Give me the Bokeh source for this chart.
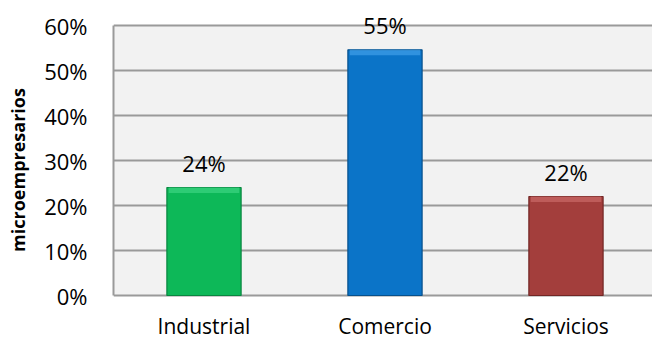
from bokeh.plotting import figure
from bokeh.models import Range1d, FixedTicker, ColumnDataSource, NumeralTickFormatter
from bokeh.core.properties import value
from bokeh.embed import file_html
from bokeh.resources import INLINE

categories = ["Industrial", "Comercio", "Servicios"]
values = [0.24, 0.546, 0.22]
labels = ["24%", "55%", "22%"]
colors = ["#0db858", "#0b74c8", "#a33e3c"]
edge_colors = ["#08863f", "#06508c", "#722624"]
light_colors = ["#45d889", "#4aa6ee", "#d0716e"]
y_ticks = [0, 0.1, 0.2, 0.3, 0.4, 0.5, 0.6]

FONT = "Open Sans"
W, H = 652, 339
FRAME_TOP, FRAME_BOTTOM = 25, 295          # pixel rows of 60% and 0%
Y_MAX = y_ticks[-1]
per_px = Y_MAX / (FRAME_BOTTOM - FRAME_TOP)
xs = [i + 0.5 for i in range(len(categories))]

src = ColumnDataSource(dict(x=xs, top=values, lab=labels, color=colors,
                            edge=edge_colors, light=light_colors,
                            bev=[v - 0.012 for v in values]))
cat_src = ColumnDataSource(dict(x=xs, y=[0] * len(xs), lab=categories))

x_range = Range1d(0, 2.978)
y_range = Range1d(-(H - FRAME_BOTTOM) * per_px, Y_MAX + FRAME_TOP * per_px)

p = figure(width=W, height=H, output_backend="svg", toolbar_location=None,
           x_range=x_range, y_range=y_range,
           min_border_left=113, min_border_right=0, min_border_top=0, min_border_bottom=0)

p.background_fill_color = "white"
p.border_fill_color = "white"
p.outline_line_color = None
p.xaxis.visible = False

# plot area background
p.quad(left=x_range.start, right=x_range.end, bottom=0, top=Y_MAX,
       fill_color="#f2f2f2", line_color=None, level="image")

p.vbar(x="x", top="top", bottom=0, width=0.41, source=src, fill_color="color",
       line_color="edge", line_width=1.2)
p.vbar(x="x", top="top", bottom="bev", width=0.39, source=src, fill_color="light",
       fill_alpha=0.6, line_color=None)

p.text(x="x", y="top", text="lab", source=src, text_align="center", text_baseline="middle",
       y_offset=-25, text_font=value(FONT), text_font_size="22px", text_color="#000000")

p.text(x="x", y="y", text="lab", source=cat_src, text_align="center", text_baseline="middle",
       y_offset=30, text_font=value(FONT), text_font_size="21px", text_color="#000000")

p.xgrid.grid_line_color = None
p.ygrid.grid_line_color = "#9a9a9a"
p.ygrid.grid_line_width = 2
p.ygrid.ticker = FixedTicker(ticks=y_ticks)

p.yaxis.ticker = FixedTicker(ticks=y_ticks)
p.yaxis.bounds = (0, Y_MAX)
p.yaxis.formatter = NumeralTickFormatter(format="0%")
p.yaxis.axis_line_color = "#9a9a9a"
p.yaxis.axis_line_width = 2
p.yaxis.major_tick_line_color = None
p.yaxis.minor_tick_line_color = None
p.yaxis.major_tick_out = 0
p.yaxis.major_tick_in = 0
p.yaxis.major_label_standoff = 26
p.yaxis.major_label_text_font = FONT
p.yaxis.major_label_text_font_size = "22px"
p.yaxis.major_label_text_color = "#000000"
p.yaxis.axis_label = "microempresarios"
p.yaxis.axis_label_text_font = FONT
p.yaxis.axis_label_text_font_style = "bold"
p.yaxis.axis_label_text_font_size = "18px"
p.yaxis.axis_label_standoff = 11
p.yaxis.axis_label_text_color = "#000000"

open("out.html", "w").write(file_html(p, INLINE))
